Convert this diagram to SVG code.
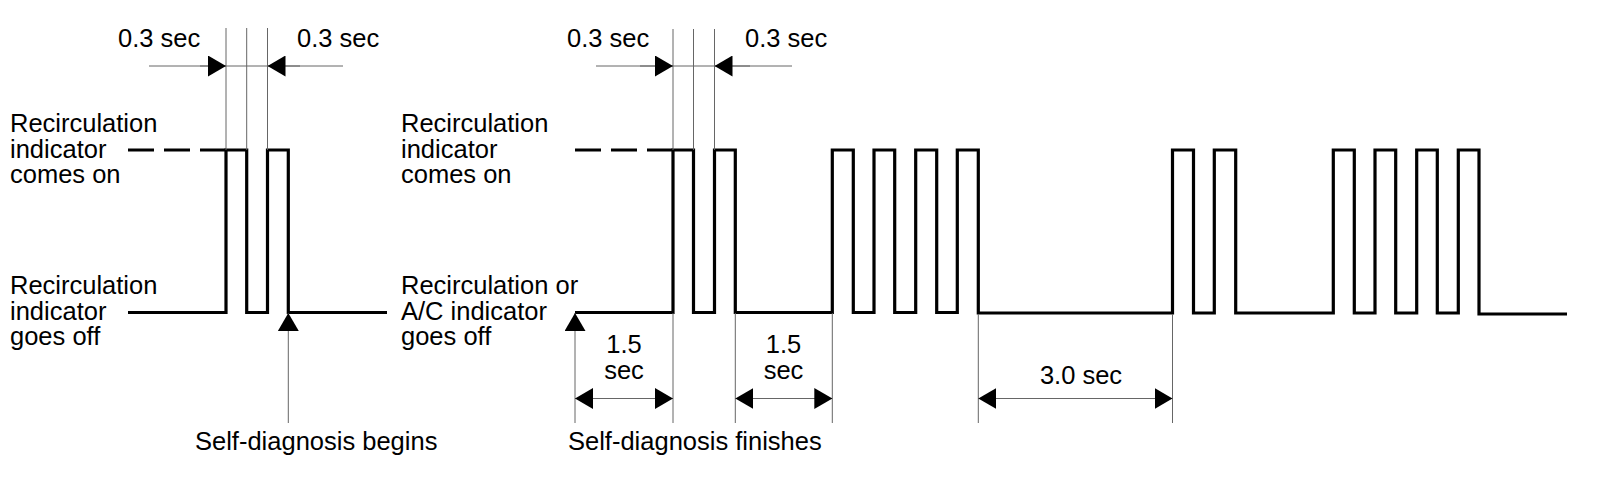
<svg xmlns="http://www.w3.org/2000/svg" width="1600" height="484" viewBox="0 0 1600 484">
<style>
text{font-family:"Liberation Sans",Arial,sans-serif;font-size:25.5px;fill:#000}
.mid{text-anchor:middle}
.wave{fill:none;stroke:#000;stroke-width:3.2;stroke-linejoin:miter;stroke-linecap:butt}
.dash{fill:none;stroke:#000;stroke-width:3.2;stroke-dasharray:26 10}
.thin{fill:none;stroke:#666;stroke-width:1}
.arr{fill:none;stroke:#666;stroke-width:1;marker-end:url(#ah)}
.darr{fill:none;stroke:#666;stroke-width:1;marker-start:url(#ah);marker-end:url(#ah)}
</style>
<defs>
<marker id="ah" viewBox="0 0 18 21" refX="18" refY="10.5" markerWidth="18" markerHeight="21" markerUnits="userSpaceOnUse" orient="auto-start-reverse">
<path d="M0,0 L18,10.5 L0,21 Z" fill="#000"/>
</marker>
</defs>
<rect width="1600" height="484" fill="#fff"/>

<g id="labels-left">
<text x="10" y="132">Recirculation</text>
<text x="10" y="157.5">indicator</text>
<text x="10" y="183">comes on</text>
<text x="10" y="294">Recirculation</text>
<text x="10" y="320">indicator</text>
<text x="10" y="345">goes off</text>
</g>
<g id="labels-mid">
<text x="401" y="132">Recirculation</text>
<text x="401" y="157.5">indicator</text>
<text x="401" y="183">comes on</text>
<text x="401" y="294">Recirculation or</text>
<text x="401" y="320">A/C indicator</text>
<text x="401" y="345">goes off</text>
</g>

<g id="waveform-left">
<path class="dash" d="M128,150 H226"/>
<path class="wave" d="M128,312.5 H226 V150 H246.7 V312.5 H267.5 V150 H288.3 V312.5 H387"/>
</g>
<g id="waveform-right">
<path class="dash" d="M575,150 H673"/>
<path class="wave" d="M575,312.5 H673 V150 H693.5 V312.5 H714.5 V150 H735.3 V312.5 H832.3 V150 H853.3 V312.5 H874 V150 H894.7 V312.5 H915.7 V150 H936.7 V312.5 H957.3 V150 H978.3 V313 H1172.5 V150 H1193.5 V313 H1214.3 V150 H1235.7 V313 H1333.3 V150 H1354.3 V313 H1375 V150 H1395.7 V313 H1416.7 V150 H1437.3 V313 H1458.3 V150 H1479 V314 H1567"/>
</g>

<g id="connectors">
<!-- upper extension lines -->
<path class="thin" d="M226,28 V150 M246.7,28 V150 M267.5,28 V150 M673,29 V150 M693.5,29 V150 M714.5,29 V150"/>
<!-- 0.3 sec dimension lines -->
<path class="thin" d="M149,66 H343 M596,66 H792"/>
<path class="arr" d="M200,66 H226"/>
<path class="arr" d="M300,66 H267.5"/>
<path class="arr" d="M640,66 H673"/>
<path class="arr" d="M750,66 H714.5"/>
<!-- lower extension lines -->
<path class="thin" d="M673,313 V423 M735.3,313 V423 M832.3,313 V423 M978.3,314 V423 M1172.5,314 V423"/>
<!-- event arrows -->
<path class="arr" d="M288.3,423 V313"/>
<path class="arr" d="M575,423 V313"/>
<!-- duration dimensions -->
<path class="darr" d="M575,398.5 H673"/>
<path class="darr" d="M735.3,398.5 H832.3"/>
<path class="darr" d="M978.3,398.5 H1172.5"/>
</g>

<g id="dimension-labels">
<text x="118" y="47">0.3 sec</text>
<text x="297" y="47">0.3 sec</text>
<text x="567" y="47">0.3 sec</text>
<text x="745" y="47">0.3 sec</text>
<text class="mid" x="624" y="353">1.5</text>
<text class="mid" x="624" y="379">sec</text>
<text class="mid" x="783.5" y="353">1.5</text>
<text class="mid" x="783.5" y="379">sec</text>
<text class="mid" x="1081" y="384">3.0 sec</text>
</g>

<g id="event-labels">
<text x="195" y="450">Self-diagnosis begins</text>
<text x="568" y="450">Self-diagnosis finishes</text>
</g>
</svg>
